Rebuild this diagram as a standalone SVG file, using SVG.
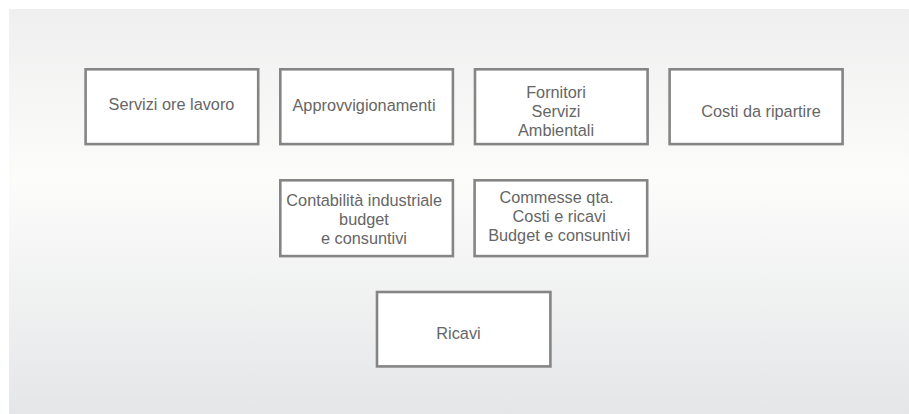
<svg xmlns="http://www.w3.org/2000/svg" width="909" height="414" viewBox="0 0 909 414">
<defs>
<linearGradient id="bg" x1="0" y1="0" x2="0" y2="1">
<stop offset="0" stop-color="#eeefee"/>
<stop offset="0.42" stop-color="#fcfcfb"/>
<stop offset="1" stop-color="#e5e6e8"/>
</linearGradient>
</defs>
<style>
.box{fill:#ffffff;stroke:#858585;stroke-width:2.6}
.t{font-family:"Liberation Sans",Arial,Helvetica,sans-serif;font-size:16.3px;fill:#666666;text-anchor:middle}
</style>
<rect x="0" y="0" width="909" height="414" fill="#ffffff"/>
<rect x="9" y="9" width="900" height="405" fill="url(#bg)"/>
<g id="connectors"></g>
<g id="n1"><rect class="box" x="85.6" y="69.3" width="172.6" height="74.8"/><text class="t" x="171.5" y="109.5">Servizi ore lavoro</text></g>
<g id="n2"><rect class="box" x="280.3" y="69.3" width="172.6" height="74.8"/><text class="t" x="364" y="110.5">Approvvigionamenti</text></g>
<g id="n3"><rect class="box" x="475" y="69.3" width="172.6" height="74.8"/><text class="t" x="556" y="97.7">Fornitori</text><text class="t" x="556" y="116.8">Servizi</text><text class="t" x="556" y="136">Ambientali</text></g>
<g id="n4"><rect class="box" x="669.6" y="69.3" width="173" height="74.8"/><text class="t" x="761" y="117">Costi da ripartire</text></g>
<g id="n5"><rect class="box" x="280.3" y="180.3" width="172.6" height="75.8"/><text class="t" x="364.2" y="205.7">Contabilità industriale</text><text class="t" x="364" y="224.8">budget</text><text class="t" x="364" y="244.3">e consuntivi</text></g>
<g id="n6"><rect class="box" x="474.6" y="180.3" width="172.6" height="75.8"/><text class="t" x="556.5" y="203.3">Commesse qta.</text><text class="t" x="559.2" y="222.3">Costi e ricavi</text><text class="t" x="559.2" y="241.3">Budget e consuntivi</text></g>
<g id="n7"><rect class="box" x="377" y="292" width="173.4" height="74.4"/><text class="t" x="458.5" y="339.3">Ricavi</text></g>
</svg>
